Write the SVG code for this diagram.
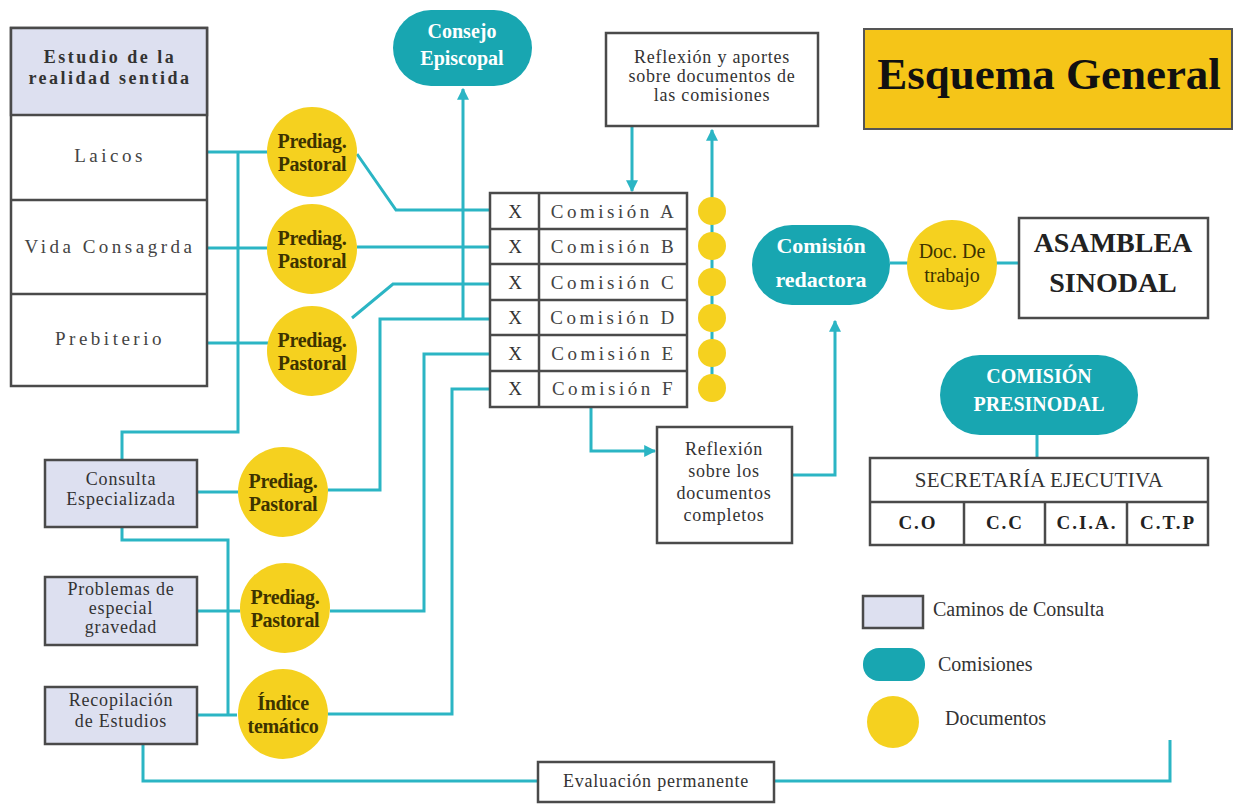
<svg xmlns="http://www.w3.org/2000/svg" width="1233" height="804" viewBox="0 0 1233 804">
<style>
.box{fill:#fff;stroke:#4a4a4a;stroke-width:2.5}
.lav{fill:#dde0f0;stroke:#4a4a4a;stroke-width:2.5}
.sep{stroke:#4a4a4a;stroke-width:2.5}
.teal{fill:#18a6b1}
.doc{fill:#f5d11f}
.ln{fill:none;stroke:#2bb5c4;stroke-width:3}
.t{font-family:"Liberation Serif",serif;fill:#333;text-anchor:middle}
.sp{font-size:19px;letter-spacing:3.5px;fill:#444}
.dt{font-size:20px;font-weight:bold;fill:#3d3300;letter-spacing:-0.3px}
.wt{fill:#fff;font-weight:bold}
.m{font-size:18px;letter-spacing:0.8px}
</style>
<defs>
<marker id="ah" viewBox="0 0 10 10" refX="9" refY="5" markerWidth="12" markerHeight="12" markerUnits="userSpaceOnUse" orient="auto">
<path d="M0,0 L10,5 L0,10 z" fill="#2bb5c4"/>
</marker>
</defs>

<g id="connectors">
<polyline class="ln" points="207,152 268,152"/>
<polyline class="ln" points="207,248 268,248"/>
<polyline class="ln" points="207,343 268,343"/>
<polyline class="ln" points="238,152 238,432 122,432 122,460"/>
<polyline class="ln" points="197,492 238,492"/>
<polyline class="ln" points="197,611 240,611"/>
<polyline class="ln" points="197,715 237,715"/>
<polyline class="ln" points="122,527 122,540 228,540 228,715"/>
<polyline class="ln" points="143,744 143,781 538,781"/>
<polyline class="ln" points="774,781 1170,781 1170,740"/>
<polyline class="ln" points="357,154 396,210 490,210"/>
<polyline class="ln" points="357,247 490,247"/>
<polyline class="ln" points="352,318 393,284 490,284"/>
<polyline class="ln" points="328,490 380,490 380,319 490,319"/>
<polyline class="ln" points="330,611 424,611 424,354 490,354"/>
<polyline class="ln" points="328,714 452,714 452,389 490,389"/>
<polyline class="ln" points="463,319 463,89" marker-end="url(#ah)"/>
<polyline class="ln" points="632,126 632,191" marker-end="url(#ah)"/>
<polyline class="ln" points="712,387 712,130" marker-end="url(#ah)"/>
<polyline class="ln" points="591,407 591,451 655,451" marker-end="url(#ah)"/>
<polyline class="ln" points="792,475 835,475 835,321" marker-end="url(#ah)"/>
<polyline class="ln" points="890,263 1019,263"/>
<polyline class="ln" points="1037,435 1037,458"/>
</g>

<g id="estudio">
<rect class="box" x="11" y="28" width="196" height="358"/>
<rect class="lav" x="11" y="28" width="196" height="87"/>
<line class="sep" x1="11" y1="200" x2="207" y2="200"/>
<line class="sep" x1="11" y1="294" x2="207" y2="294"/>
<text class="t" x="110" y="63" style="font-size:18px;font-weight:bold;letter-spacing:2.5px">Estudio de la</text>
<text class="t" x="110" y="84" style="font-size:18px;font-weight:bold;letter-spacing:2.5px">realidad sentida</text>
<text class="t sp" x="110" y="162">Laicos</text>
<text class="t sp" x="110" y="253">Vida Consagrda</text>
<text class="t sp" x="110" y="345">Prebiterio</text>
</g>

<g id="doc1"><circle class="doc" cx="312" cy="152" r="45"/><text class="t dt" x="312" y="148">Prediag.</text><text class="t dt" x="312" y="171">Pastoral</text></g>
<g id="doc2"><circle class="doc" cx="312" cy="249" r="45"/><text class="t dt" x="312" y="245">Prediag.</text><text class="t dt" x="312" y="268">Pastoral</text></g>
<g id="doc3"><circle class="doc" cx="312" cy="351" r="45"/><text class="t dt" x="312" y="347">Prediag.</text><text class="t dt" x="312" y="370">Pastoral</text></g>
<g id="doc4"><circle class="doc" cx="283" cy="492" r="45"/><text class="t dt" x="283" y="488">Prediag.</text><text class="t dt" x="283" y="511">Pastoral</text></g>
<g id="doc5"><circle class="doc" cx="285" cy="608" r="45"/><text class="t dt" x="285" y="604">Prediag.</text><text class="t dt" x="285" y="627">Pastoral</text></g>
<g id="doc6"><circle class="doc" cx="283" cy="714" r="45"/><text class="t dt" x="283" y="710">Índice</text><text class="t dt" x="283" y="733">temático</text></g>

<g id="consulta"><rect class="lav" x="45" y="460" width="152" height="67"/><text class="t m" x="121" y="485">Consulta</text><text class="t m" x="121" y="505">Especializada</text></g>
<g id="problemas"><rect class="lav" x="45" y="577" width="152" height="68"/><text class="t m" x="121" y="595">Problemas de</text><text class="t m" x="121" y="614">especial</text><text class="t m" x="121" y="633">gravedad</text></g>
<g id="recopilacion"><rect class="lav" x="45" y="687" width="152" height="57"/><text class="t m" x="121" y="706">Recopilación</text><text class="t m" x="121" y="727">de Estudios</text></g>

<g id="consejo"><rect class="teal" x="393" y="10" width="139" height="76" rx="38"/><text class="t wt" x="462" y="38" style="font-size:20px">Consejo</text><text class="t wt" x="462" y="65" style="font-size:20px">Episcopal</text></g>

<g id="reflexion-aportes"><rect class="box" x="606" y="33" width="212" height="93"/><text class="t m" x="712" y="63">Reflexión y aportes</text><text class="t m" x="712" y="82">sobre documentos de</text><text class="t m" x="712" y="101">las comisiones</text></g>

<g id="comisiones">
<rect class="box" x="490" y="193" width="197" height="214"/>
<line class="sep" x1="539" y1="193" x2="539" y2="407"/>
<line class="sep" x1="490" y1="229" x2="687" y2="229"/>
<line class="sep" x1="490" y1="264" x2="687" y2="264"/>
<line class="sep" x1="490" y1="300" x2="687" y2="300"/>
<line class="sep" x1="490" y1="335" x2="687" y2="335"/>
<line class="sep" x1="490" y1="371" x2="687" y2="371"/>
<g class="t" style="font-size:19px;fill:#333">
<text x="515" y="218">X</text><text x="515" y="253">X</text><text x="515" y="289">X</text><text x="515" y="324">X</text><text x="515" y="360">X</text><text x="515" y="395">X</text>
</g>
<text class="t sp" x="614" y="218">Comisión A</text>
<text class="t sp" x="614" y="253">Comisión B</text>
<text class="t sp" x="614" y="289">Comisión C</text>
<text class="t sp" x="614" y="324">Comisión D</text>
<text class="t sp" x="614" y="360">Comisión E</text>
<text class="t sp" x="614" y="395">Comisión F</text>
</g>

<g id="docs-comisiones">
<circle class="doc" cx="712" cy="211" r="14"/>
<circle class="doc" cx="712" cy="246" r="14"/>
<circle class="doc" cx="712" cy="282" r="14"/>
<circle class="doc" cx="712" cy="318" r="14"/>
<circle class="doc" cx="712" cy="353" r="14"/>
<circle class="doc" cx="712" cy="388" r="14"/>
</g>

<g id="reflexion-completos"><rect class="box" x="657" y="427" width="135" height="116"/><text class="t m" x="724" y="455">Reflexión</text><text class="t m" x="724" y="477">sobre los</text><text class="t m" x="724" y="499">documentos</text><text class="t m" x="724" y="521">completos</text></g>

<g id="redactora"><rect class="teal" x="752" y="225" width="138" height="80" rx="40"/><text class="t wt" x="821" y="253" style="font-size:22px">Comisión</text><text class="t wt" x="821" y="287" style="font-size:22px">redactora</text></g>

<g id="doc-trabajo"><circle class="doc" cx="952" cy="265" r="45"/><text class="t" x="952" y="258" style="font-size:20px;fill:#3d3300">Doc. De</text><text class="t" x="952" y="282" style="font-size:20px;fill:#3d3300">trabajo</text></g>

<g id="asamblea"><rect class="box" x="1019" y="218" width="189" height="100"/><text class="t" x="1113" y="252" style="font-size:28px;font-weight:bold;fill:#222">ASAMBLEA</text><text class="t" x="1113" y="292" style="font-size:28px;font-weight:bold;fill:#222">SINODAL</text></g>

<g id="titulo"><rect x="864" y="29" width="368" height="100" fill="#f5c518" stroke="#555" stroke-width="2"/><text class="t" x="1049" y="89" style="font-size:45px;font-weight:bold;fill:#111">Esquema General</text></g>

<g id="presinodal"><rect class="teal" x="940" y="355" width="198" height="80" rx="40"/><text class="t wt" x="1039" y="383" style="font-size:20px">COMISIÓN</text><text class="t wt" x="1039" y="411" style="font-size:20px">PRESINODAL</text></g>

<g id="secretaria">
<rect class="box" x="870" y="458" width="338" height="87"/>
<line class="sep" x1="870" y1="502" x2="1208" y2="502"/>
<line class="sep" x1="964" y1="502" x2="964" y2="545"/>
<line class="sep" x1="1045" y1="502" x2="1045" y2="545"/>
<line class="sep" x1="1127" y1="502" x2="1127" y2="545"/>
<text class="t" x="1039" y="487" style="font-size:21px;letter-spacing:0.3px">SECRETARÍA EJECUTIVA</text>
<g class="t" style="font-size:19px;font-weight:bold;letter-spacing:2px;fill:#222">
<text x="918" y="529">C.O</text><text x="1005" y="529">C.C</text><text x="1087" y="529">C.I.A.</text><text x="1168" y="529">C.T.P</text>
</g>
</g>

<g id="evaluacion"><rect class="box" x="538" y="762" width="236" height="40"/><text class="t m" x="656" y="787">Evaluación permanente</text></g>

<g id="leyenda">
<rect class="lav" x="863" y="596" width="60" height="32"/>
<text class="t" x="933" y="616" style="font-size:20px;text-anchor:start">Caminos de Consulta</text>
<rect class="teal" x="863" y="648" width="62" height="33" rx="16"/>
<text class="t" x="938" y="671" style="font-size:20px;text-anchor:start">Comisiones</text>
<circle class="doc" cx="893" cy="722" r="26"/>
<text class="t" x="945" y="725" style="font-size:20px;text-anchor:start">Documentos</text>
</g>
</svg>
